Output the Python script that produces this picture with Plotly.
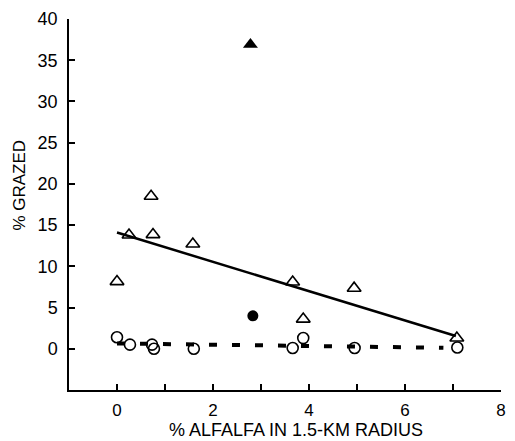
import plotly.graph_objects as go

# Data
tri_x = [0.0, 0.25, 0.71, 0.75, 1.58, 3.66, 3.88, 4.94, 7.08]
tri_y = [8.15, 13.8, 18.5, 13.85, 12.7, 8.1, 3.6, 7.35, 1.3]
circ_x = [0.0, 0.27, 0.73, 0.77, 1.6, 3.66, 3.88, 4.95, 7.09]
circ_y = [1.4, 0.5, 0.5, 0.0, 0.0, 0.1, 1.3, 0.1, 0.15]
filled_tri_x = [2.78]
filled_tri_y = [36.9]
filled_circ_x = [2.83]
filled_circ_y = [4.0]
fit_x = [0.0, 7.06]
solid_fit_y = [14.1, 1.55]
dash_fit_x = [0.0, 6.8]
dash_fit_y = [0.65, 0.12]

x_tickvals = [0, 2, 4, 6, 8]
y_tickvals = [0, 5, 10, 15, 20, 25, 30, 35, 40]

FONT = "Liberation Sans, Arial, Helvetica, sans-serif"
W, H = 515, 441
ML, MR, MT, MB = 69, 9, 19, 51

fig = go.Figure()
fig.add_trace(go.Scatter(x=fit_x, y=solid_fit_y, mode="lines",
                         line=dict(color="black", width=2.5), showlegend=False))
fig.add_trace(go.Scatter(x=dash_fit_x, y=dash_fit_y, mode="lines",
                         line=dict(color="black", width=4, dash="8px,15px"), showlegend=False))
fig.add_trace(go.Scatter(x=tri_x, y=tri_y, mode="markers",
                         marker=dict(symbol="triangle-up-open", size=12, color="black",
                                     line=dict(width=1.6, color="black")), showlegend=False))
fig.add_trace(go.Scatter(x=circ_x, y=circ_y, mode="markers",
                         marker=dict(symbol="circle-open", size=11, color="black",
                                     line=dict(width=1.6, color="black")), showlegend=False))
fig.add_trace(go.Scatter(x=filled_tri_x, y=filled_tri_y, mode="markers",
                         marker=dict(symbol="triangle-up", size=13, color="black"), showlegend=False))
fig.add_trace(go.Scatter(x=filled_circ_x, y=filled_circ_y, mode="markers",
                         marker=dict(symbol="circle", size=11, color="black"), showlegend=False))

fig.update_layout(
    width=W, height=H,
    margin=dict(l=ML, r=MR, t=MT, b=MB, pad=0),
    paper_bgcolor="white", plot_bgcolor="white",
    font=dict(family=FONT, color="black", size=17),
    xaxis=dict(range=[-1, 8], tickvals=x_tickvals, ticks="inside", ticklen=6, tickwidth=1.5,
               tickcolor="black", showline=True, linecolor="black", linewidth=1.5,
               showgrid=False, zeroline=False, ticklabelstandoff=4,
               minor=dict(tickvals=[1, 3, 5, 7], ticks="inside", ticklen=6, tickwidth=1.5,
                          tickcolor="black", showgrid=False),
               tickfont=dict(size=17, family=FONT)),
    yaxis=dict(range=[-5, 40], tickvals=y_tickvals, ticks="inside", ticklen=6, tickwidth=1.5,
               tickcolor="black", showline=True, linecolor="black", linewidth=1.5,
               showgrid=False, zeroline=False, ticklabelstandoff=6,
               tickfont=dict(size=18, family=FONT)),
    annotations=[
        dict(text="% ALFALFA IN 1.5-KM RADIUS", xref="paper", yref="paper",
             x=(299 - ML) / (W - ML - MR), y=-(H - (H - MB)) / (H - MT - MB),
             showarrow=False, xanchor="center", yanchor="bottom", borderpad=0,
             font=dict(size=18, family=FONT, color="black")),
        dict(text="% GRAZED", xref="paper", yref="paper", textangle=-90,
             x=-(ML - 18) / (W - ML - MR), y=((H - MB) - 185) / (H - MT - MB),
             showarrow=False, xanchor="center", yanchor="middle",
             font=dict(size=17, family=FONT, color="black")),
    ],
)

fig.write_html("out.html", config={"displayModeBar": False},
               post_script="document.body.style.margin='0';document.body.style.padding='0';")
